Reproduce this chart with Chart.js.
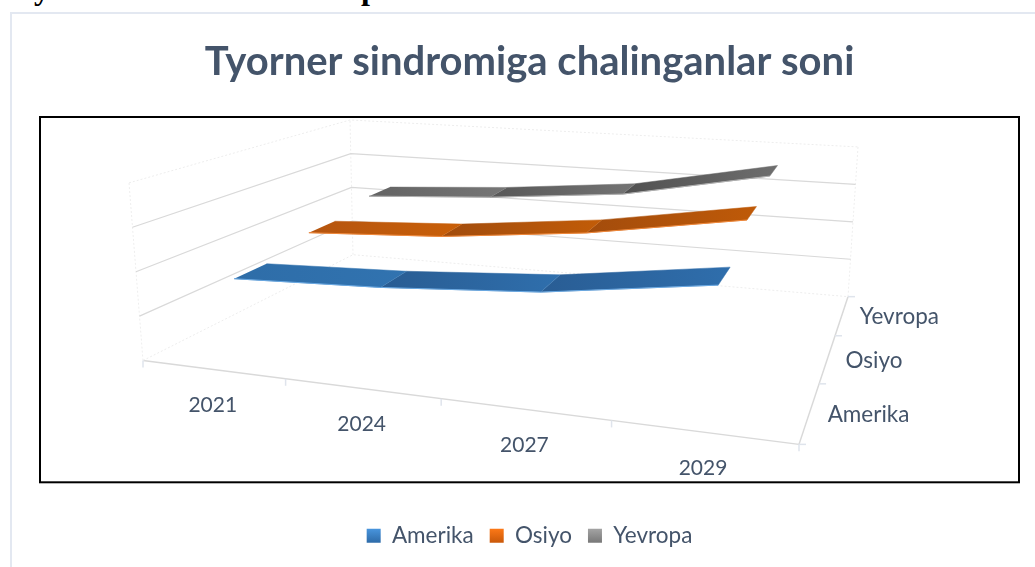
<!DOCTYPE html>
<html>
<head>
<meta charset="utf-8">
<style>
  html, body { margin: 0; padding: 0; background: #fff; overflow: hidden; }
  #wrap { position: relative; width: 1035px; height: 567px; overflow: hidden; }
  #myChart { position: absolute; left: 0; top: 0; }
  #outer { position: absolute; left: 10px; top: 12px; width: 1035px; height: 567px; border-left: 2px solid #e3e8f1; border-top: 2px solid #e3e8f1; }
  .cut { position: absolute; font: bold 32px "Liberation Serif"; color: #000; line-height: 32px; }
</style>
<script src="https://cdn.jsdelivr.net/npm/chart.js@4"></script>
</head>
<body>
<div id="wrap">
  <div id="outer"></div>
  <span class="cut" style="left:34px;top:-28px">y</span>
  <span class="cut" style="left:361px;top:-28px">p</span>
  <canvas id="myChart" width="1035" height="567"></canvas>
</div>
<script>
var categories = ["2021", "2024", "2027", "2029"];
var seriesNames = ["Amerika", "Osiyo", "Yevropa"];
var amerika = [43.7, 47.7, 54.5, 68];
var osiyo = [50.8, 56, 66, 81.7];
var yevropa = [57.5, 63, 71.5, 89.7];
var seriesValues = [amerika, osiyo, yevropa];
var gridValues = [0, 25, 50, 75, 100];
var axisMax = 100;

// 3d box seen by the camera, in canvas px (front/back, left/right, bottom/top)
var box = {
  flb: [143, 361], frb: [799, 445], blb: [353, 255], brb: [848, 297],
  flt: [129, 183], frt: [811, 247], blt: [350, 120], brt: [858, 147]
};
var ribbonHalf = 0.067;
var textColor = "#44546a";
var fontName = "Lato";

var segColors = [
  [["#2e6da8", "#3173b0"], ["#295c92", "#2f6fad"], ["#295d94", "#2f6eac"]],
  [["#b5550f", "#c95f08"], ["#a14c0d", "#c25c08"], ["#a34c0c", "#bf5a08"]],
  [["#636363", "#767676"], ["#585858", "#747474"], ["#505050", "#6e6e6e"]]
];
var edgeColors = ["#69a8e2", "#f0883a", "#b0b0b0"];
var legendColors = [["#4a97e0", "#2f6dab"], ["#ff7a18", "#cc5a0a"], ["#a6a6a6", "#7a7a7a"]];

function persp(t, k) { return t / (t + k * (1 - t)); }
function mix(a, b, t) { return [a[0] + (b[0] - a[0]) * t, a[1] + (b[1] - a[1]) * t]; }

// u along the categories, d into the depth, v is a chart value
function project(u, d, v) {
  var a = persp(u, 1.2), b = persp(d, 0.72), h = v / axisMax;
  var bottom = mix(mix(box.flb, box.frb, a), mix(box.blb, box.brb, a), b);
  var top = mix(mix(box.flt, box.frt, a), mix(box.blt, box.brt, a), b);
  var p = mix(bottom, top, h);
  return { x: p[0], y: p[1] };
}
function catPos(i) { return (i + 0.5) / categories.length; }
function serPos(s) { return (s + 0.5) / seriesNames.length; }

var canvas = document.getElementById("myChart");
var ctx = canvas.getContext("2d");
var datasets = [];

function lineSet(points, color, width, dash) {
  datasets.push({
    data: points, showLine: true, fill: false, pointRadius: 0,
    borderColor: color, borderWidth: width, borderDash: dash || [], order: 5
  });
}

// walls
gridValues.forEach(function (v) {
  var soft = v === 0 || v === axisMax;
  lineSet([project(0, 0, v), project(0, 1, v), project(1, 1, v)],
    soft ? "#ededed" : "#d9d9d9", soft ? 1 : 1.2, soft ? [2, 2] : []);
});
[[0, 0], [0, 1], [1, 1]].forEach(function (c) {
  lineSet([project(c[0], c[1], 0), project(c[0], c[1], axisMax)], "#eeeeee", 1, [2, 2]);
});
// axes on the floor
lineSet([project(0, 0, 0), project(1, 0, 0)], "#d9d9d9", 1.5);
lineSet([project(1, 0, 0), project(1, 1, 0)], "#d9d9d9", 1.5);

// ribbons
seriesValues.forEach(function (vals, s) {
  var d0 = serPos(s) - ribbonHalf, d1 = serPos(s) + ribbonHalf;
  for (var i = 0; i < vals.length - 1; i++) {
    var a = project(catPos(i), d0, vals[i]), b = project(catPos(i + 1), d0, vals[i + 1]);
    var c = project(catPos(i + 1), d1, vals[i + 1]), e = project(catPos(i), d1, vals[i]);
    var g = ctx.createLinearGradient(Math.min(a.x, e.x), 0, Math.max(b.x, c.x), 0);
    g.addColorStop(0, segColors[s][i][0]);
    g.addColorStop(1, segColors[s][i][1]);
    datasets.push({
      label: seriesNames[s], data: [a, b, c, e], showLine: true, fill: "shape",
      backgroundColor: g, borderColor: g, borderWidth: 0.5, pointRadius: 0, order: 2
    });
  }
  var edge = vals.map(function (v, i) { return project(catPos(i), d0, v); });
  datasets.push({
    data: edge, showLine: true, fill: false, pointRadius: 0,
    borderColor: edgeColors[s], borderWidth: 1, order: 1
  });
});

function legendFill(s) {
  var g = ctx.createLinearGradient(0, 528, 0, 542);
  g.addColorStop(0, legendColors[s][0]);
  g.addColorStop(1, legendColors[s][1]);
  return g;
}

var axisDecor = {
  id: "axisDecor",
  afterDraw: function (chart) {
    var c = chart.ctx, xs = chart.scales.x, ys = chart.scales.y, area = chart.chartArea;
    c.save();
    // frame round the plot
    c.strokeStyle = "#000";
    c.lineWidth = 2;
    c.strokeRect(area.left, area.top, area.right - area.left, area.bottom - area.top);

    // tick marks
    c.strokeStyle = "#dfe4ec";
    c.lineWidth = 1.5;
    for (var i = 0; i <= categories.length; i++) {
      var p = project(i / categories.length, 0, 0);
      c.beginPath();
      c.moveTo(xs.getPixelForValue(p.x), ys.getPixelForValue(p.y));
      c.lineTo(xs.getPixelForValue(p.x), ys.getPixelForValue(p.y) + 7);
      c.stroke();
    }
    for (var s = 0; s <= seriesNames.length; s++) {
      var q = project(1, s / seriesNames.length, 0);
      c.beginPath();
      c.moveTo(xs.getPixelForValue(q.x), ys.getPixelForValue(q.y));
      c.lineTo(xs.getPixelForValue(q.x) + 7, ys.getPixelForValue(q.y));
      c.stroke();
    }

    // tick labels
    c.fillStyle = textColor;
    c.font = "21px " + fontName;
    c.textBaseline = "middle";
    c.textAlign = "center";
    categories.forEach(function (name, i) {
      var p = project(catPos(i), 0, 0);
      c.fillText(name, xs.getPixelForValue(p.x), ys.getPixelForValue(p.y) + 36);
    });
    c.font = "22.5px " + fontName;
    c.textAlign = "left";
    seriesNames.forEach(function (name, s) {
      var p = project(1, serPos(s), 0);
      c.fillText(name, xs.getPixelForValue(p.x) + 18, ys.getPixelForValue(p.y) + 2);
    });
    c.restore();
  }
};

var myChart = new Chart(ctx, {
  type: "scatter",
  data: { datasets: datasets },
  plugins: [axisDecor],
  options: {
    responsive: false,
    animation: false,
    layout: { padding: { left: 40, right: 16, top: 0, bottom: 10 } },
    scales: {
      x: { type: "linear", display: false, min: 40, max: 1019 },
      y: { type: "linear", display: false, min: 117, max: 483, reverse: true }
    },
    plugins: {
      tooltip: { enabled: false },
      title: {
        display: true,
        text: "Tyorner sindromiga chalinganlar soni",
        color: textColor,
        font: { family: fontName, size: 40, weight: "bold" },
        padding: { top: 38, bottom: 31 }
      },
      legend: {
        position: "bottom",
        title: { display: true, text: " ", font: { size: 1 }, padding: { top: 25, bottom: 0 } },
        labels: {
          boxWidth: 14,
          boxHeight: 14,
          padding: 16,
          color: textColor,
          font: { family: fontName, size: 22.5 },
          generateLabels: function () {
            return seriesNames.map(function (name, s) {
              return { text: name, fillStyle: legendFill(s), strokeStyle: "transparent", lineWidth: 0, fontColor: textColor, datasetIndex: s };
            });
          }
        }
      }
    }
  }
});
</script>
</body>
</html>
